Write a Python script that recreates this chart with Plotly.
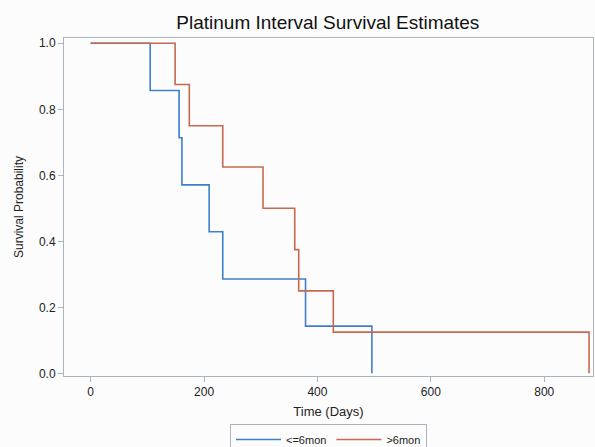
import plotly.graph_objects as go

# Kaplan-Meier step data
le6_time = [0, 105, 156, 161, 209, 233, 379, 496]
le6_surv = [1.0, 0.857, 0.714, 0.571, 0.429, 0.286, 0.143, 0.0]

gt6_time = [0, 149, 174, 233, 304, 360, 367, 428, 879]
gt6_surv = [1.0, 0.875, 0.75, 0.625, 0.5, 0.375, 0.25, 0.125, 0.0]

series_names = ["<=6mon", ">6mon"]
series_colors = ["#3F7FCA", "#C8694F"]

x_ticks = [0, 200, 400, 600, 800]
y_ticks = [0.0, 0.2, 0.4, 0.6, 0.8, 1.0]
y_tick_labels = ["0.0", "0.2", "0.4", "0.6", "0.8", "1.0"]

FONT = "Liberation Sans, Arial, sans-serif"
AXIS_COLOR = "#A9B5BE"

fig = go.Figure()
for t, s, name, color in [(le6_time, le6_surv, series_names[0], series_colors[0]),
                          (gt6_time, gt6_surv, series_names[1], series_colors[1])]:
    fig.add_trace(go.Scatter(x=t, y=s, mode="lines", name=name,
                             line=dict(color=color, width=1.6, shape="hv")))

fig.update_layout(
    width=595, height=447,
    margin=dict(l=64, r=2, t=38, b=71, autoexpand=False),
    paper_bgcolor="#FCFCFD", plot_bgcolor="#FCFCFD",
    font=dict(family=FONT, size=11, color="#222222"),
    title=dict(text="Platinum Interval Survival Estimates", x=0.551, xanchor="center",
               y=0.951, yanchor="middle", automargin=False,
               font=dict(size=19, color="#111111", family=FONT)),
    showlegend=True,
    legend=dict(orientation="h", x=0.5, xanchor="center", xref="paper",
                y=-0.142, yanchor="top", bordercolor=AXIS_COLOR, borderwidth=1,
                bgcolor="#FCFCFD", font=dict(size=11), itemwidth=45,
                tracegroupgap=0),
)
fig.update_xaxes(range=[-47, 886], tickvals=x_ticks, showgrid=False, zeroline=False,
                 automargin=False,
                 showline=True, linecolor=AXIS_COLOR, linewidth=1, mirror=True,
                 ticks="outside", ticklen=5, tickcolor=AXIS_COLOR,
                 tickfont=dict(size=12),
                 title=dict(text="Time (Days)", font=dict(size=13), standoff=8))
fig.update_yaxes(range=[-0.008, 1.016], tickvals=y_ticks, ticktext=y_tick_labels,
                 showgrid=False, zeroline=False, automargin=False,
                 showline=True, linecolor=AXIS_COLOR, linewidth=1, mirror=True,
                 ticks="outside", ticklen=5, tickcolor=AXIS_COLOR,
                 tickfont=dict(size=12),
                 title=dict(text="Survival Probability", font=dict(size=12), standoff=12))

fig.write_html("out.html", config={"displayModeBar": False},
               post_script="document.body.style.margin='0px';document.body.style.padding='0px';document.body.style.overflow='hidden';")
